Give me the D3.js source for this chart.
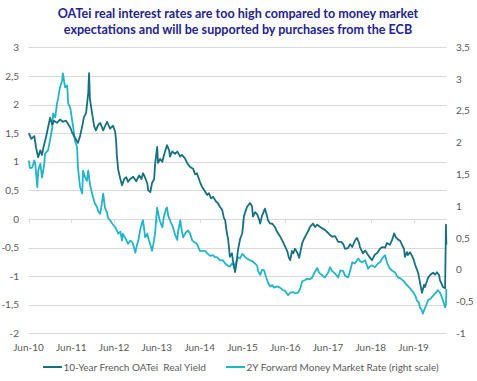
<!DOCTYPE html>
<html><head><meta charset="utf-8">
<script src="https://cdn.jsdelivr.net/npm/d3@7"></script>
<style>html,body{margin:0;padding:0;background:#fff;}svg{display:block;}text{white-space:pre;}</style>
</head><body>
<svg id="c" width="477" height="381"></svg>
<script>
// ---------- DATA ----------
const titleLines = ["OATei real interest rates are too high compared to money market",
                    "expectations and will be supported by purchases from the ECB"];
const seriesNames = ["10-Year French OATei  Real Yield", "2Y Forward Money Market Rate (right scale)"];
const xTickLabels = ["Jun-10","Jun-11","Jun-12","Jun-13","Jun-14","Jun-15","Jun-16","Jun-17","Jun-18","Jun-19"];
const leftTicks = [-2,-1.5,-1,-0.5,0,0.5,1,1.5,2,2.5,3];
const rightTicks = [-1,-0.5,0,0.5,1,1.5,2,2.5,3,3.5];

// decimal years
const oatTime = [2010.42,2010.48,2010.55,2010.59,2010.64,2010.69,2010.73,2010.76,2010.83,2010.87,2010.92,2010.97,2011.01,2011.08,2011.15,2011.22,2011.29,2011.34,2011.39,2011.43,2011.50,2011.57,2011.62,2011.67,2011.71,2011.76,2011.81,2011.83,2011.85,2011.90,2011.95,2011.99,2012.04,2012.09,2012.16,2012.20,2012.25,2012.32,2012.39,2012.44,2012.46,2012.48,2012.51,2012.56,2012.60,2012.65,2012.70,2012.74,2012.79,2012.86,2012.93,2013.00,2013.05,2013.09,2013.14,2013.19,2013.21,2013.26,2013.30,2013.35,2013.37,2013.42,2013.44,2013.49,2013.54,2013.58,2013.65,2013.70,2013.72,2013.77,2013.84,2013.89,2013.96,2014.00,2014.07,2014.12,2014.19,2014.26,2014.31,2014.35,2014.42,2014.47,2014.54,2014.59,2014.63,2014.68,2014.73,2014.80,2014.84,2014.89,2014.94,2014.98,2015.01,2015.05,2015.08,2015.12,2015.17,2015.19,2015.24,2015.27,2015.31,2015.36,2015.41,2015.45,2015.48,2015.52,2015.59,2015.64,2015.66,2015.71,2015.76,2015.80,2015.83,2015.87,2015.94,2015.99,2016.01,2016.06,2016.11,2016.18,2016.22,2016.29,2016.34,2016.39,2016.46,2016.50,2016.53,2016.57,2016.60,2016.64,2016.69,2016.74,2016.76,2016.81,2016.85,2016.92,2016.97,2016.99,2017.06,2017.11,2017.16,2017.23,2017.27,2017.34,2017.41,2017.46,2017.51,2017.58,2017.65,2017.72,2017.77,2017.81,2017.88,2017.93,2017.98,2018.04,2018.09,2018.14,2018.16,2018.23,2018.28,2018.35,2018.40,2018.44,2018.51,2018.56,2018.63,2018.68,2018.75,2018.79,2018.86,2018.91,2018.96,2019.00,2019.05,2019.10,2019.14,2019.19,2019.21,2019.26,2019.28,2019.33,2019.38,2019.42,2019.45,2019.49,2019.52,2019.56,2019.61,2019.66,2019.68,2019.73,2019.75,2019.80,2019.87,2019.92,2019.96,2020.01,2020.03,2020.08,2020.10,2020.15,2020.17,2020.18];
const oatYield = [1.50,1.40,1.45,1.25,1.08,1.20,1.12,1.24,1.45,1.60,1.77,1.65,1.72,1.68,1.74,1.70,1.72,1.66,1.60,1.52,1.42,1.33,1.45,1.62,1.78,1.85,2.20,2.55,2.10,1.85,1.62,1.55,1.64,1.68,1.55,1.62,1.70,1.58,1.63,1.52,1.38,1.10,0.86,0.70,0.59,0.70,0.73,0.65,0.70,0.74,0.66,0.76,0.70,0.80,0.72,0.62,0.50,0.47,0.63,0.70,0.95,1.26,0.98,1.05,1.00,1.12,1.29,1.20,1.09,1.18,1.14,1.18,1.09,1.12,1.06,0.98,0.91,0.88,0.78,0.80,0.65,0.56,0.48,0.42,0.45,0.36,0.39,0.30,0.28,0.21,0.16,0.02,-0.02,-0.25,-0.35,-0.66,-0.60,-0.72,-0.93,-0.80,-0.54,-0.35,-0.25,0.05,0.12,0.21,0.28,0.22,0.04,0.12,0.08,0.00,-0.08,0.05,0.18,0.05,-0.02,-0.08,-0.08,-0.15,-0.22,-0.30,-0.37,-0.45,-0.56,-0.68,-0.72,-0.56,-0.60,-0.52,-0.58,-0.68,-0.60,-0.42,-0.35,-0.25,-0.18,-0.14,-0.08,-0.14,-0.10,-0.14,-0.16,-0.19,-0.24,-0.28,-0.31,-0.30,-0.40,-0.40,-0.44,-0.52,-0.51,-0.44,-0.49,-0.38,-0.33,-0.42,-0.49,-0.60,-0.55,-0.63,-0.68,-0.72,-0.62,-0.60,-0.52,-0.49,-0.50,-0.42,-0.45,-0.37,-0.25,-0.32,-0.36,-0.38,-0.45,-0.52,-0.66,-0.58,-0.63,-0.58,-0.65,-0.72,-0.80,-0.88,-0.94,-1.10,-1.29,-1.15,-1.19,-1.08,-1.03,-0.98,-0.94,-0.97,-0.93,-0.98,-1.07,-1.15,-1.19,-1.21,-0.10,-0.45];

const fwdTime = [2010.42,2010.45,2010.50,2010.55,2010.57,2010.62,2010.64,2010.69,2010.73,2010.78,2010.80,2010.87,2010.92,2010.97,2010.99,2011.04,2011.08,2011.11,2011.15,2011.20,2011.22,2011.25,2011.27,2011.32,2011.34,2011.39,2011.41,2011.46,2011.50,2011.55,2011.57,2011.62,2011.67,2011.69,2011.74,2011.78,2011.81,2011.85,2011.90,2011.95,2011.97,2012.02,2012.04,2012.09,2012.13,2012.16,2012.20,2012.25,2012.27,2012.32,2012.37,2012.44,2012.48,2012.51,2012.56,2012.60,2012.62,2012.67,2012.74,2012.79,2012.84,2012.88,2012.91,2012.95,2012.98,2013.02,2013.07,2013.09,2013.14,2013.19,2013.21,2013.26,2013.30,2013.33,2013.37,2013.42,2013.47,2013.51,2013.54,2013.58,2013.63,2013.65,2013.68,2013.72,2013.77,2013.79,2013.84,2013.89,2013.91,2013.96,2014.00,2014.03,2014.07,2014.14,2014.19,2014.24,2014.28,2014.35,2014.42,2014.49,2014.54,2014.59,2014.66,2014.73,2014.77,2014.82,2014.89,2014.96,2015.01,2015.08,2015.12,2015.17,2015.22,2015.27,2015.31,2015.36,2015.41,2015.48,2015.52,2015.59,2015.64,2015.71,2015.76,2015.78,2015.83,2015.87,2015.92,2015.97,2016.01,2016.06,2016.11,2016.15,2016.22,2016.29,2016.36,2016.41,2016.46,2016.48,2016.53,2016.60,2016.64,2016.71,2016.76,2016.81,2016.88,2016.92,2016.99,2017.04,2017.11,2017.16,2017.20,2017.23,2017.30,2017.34,2017.41,2017.46,2017.51,2017.58,2017.65,2017.70,2017.77,2017.81,2017.88,2017.93,2017.98,2018.04,2018.12,2018.16,2018.21,2018.28,2018.35,2018.40,2018.44,2018.51,2018.58,2018.63,2018.68,2018.75,2018.79,2018.82,2018.86,2018.91,2018.98,2019.05,2019.10,2019.17,2019.21,2019.26,2019.33,2019.40,2019.45,2019.49,2019.54,2019.56,2019.61,2019.63,2019.68,2019.73,2019.75,2019.80,2019.84,2019.92,2019.96,2019.98,2020.03,2020.08,2020.10,2020.15,2020.17,2020.18];
const fwdRate = [1.72,1.60,1.61,1.72,1.68,1.30,1.56,1.67,1.45,1.65,1.83,1.88,2.05,2.24,2.46,2.40,2.62,2.71,2.87,2.98,3.09,2.95,2.87,2.90,2.62,2.55,2.46,2.24,2.03,1.93,1.61,1.30,1.20,1.56,1.45,1.40,1.56,1.35,1.20,1.08,1.04,0.98,0.93,0.88,1.05,1.20,0.98,0.90,0.82,0.78,0.73,0.67,0.62,0.57,0.60,0.46,0.57,0.51,0.41,0.46,0.43,0.35,0.27,0.40,0.46,0.62,0.75,0.78,0.51,0.57,0.50,0.40,0.30,0.40,0.57,0.98,0.80,0.72,0.67,0.85,0.96,0.98,0.85,0.78,0.70,0.67,0.55,0.47,0.60,0.78,0.60,0.51,0.57,0.62,0.57,0.46,0.44,0.41,0.30,0.30,0.30,0.26,0.22,0.23,0.20,0.20,0.15,0.15,0.10,0.06,0.05,0.10,0.06,0.12,0.20,0.18,0.25,0.20,0.18,0.15,0.14,0.10,0.06,-0.02,-0.08,0.00,-0.01,-0.12,-0.20,-0.26,-0.24,-0.28,-0.26,-0.28,-0.32,-0.33,-0.38,-0.40,-0.36,-0.35,-0.37,-0.36,-0.30,-0.18,-0.16,-0.14,-0.15,-0.12,-0.03,0.03,-0.04,-0.06,-0.10,-0.12,-0.05,0.04,-0.02,-0.06,-0.12,-0.01,-0.02,-0.09,-0.12,-0.02,0.12,0.10,0.18,0.14,0.12,0.15,0.02,0.06,0.07,0.04,0.10,0.12,0.18,0.23,0.12,0.07,0.02,-0.01,-0.04,-0.12,-0.13,-0.17,-0.20,-0.24,-0.29,-0.35,-0.40,-0.48,-0.52,-0.59,-0.64,-0.69,-0.60,-0.52,-0.48,-0.46,-0.43,-0.37,-0.34,-0.32,-0.36,-0.44,-0.48,-0.59,-0.55,-0.30];

// ---------- CHART ----------
const colors = {oat:"#17707f", fwd:"#22b4c8", grid:"#d9d9d9", text:"#595959", title:"#23238f"};
const svg = d3.select("#c");
const FONT = "Lato, 'Open Sans', 'Liberation Sans', sans-serif";

function decToDate(y){
  const yr = Math.floor(y);
  const s = new Date(yr,0,1), e = new Date(yr+1,0,1);
  return new Date(+s + (y-yr)*(e-s));
}
const parseTick = d3.timeParse("%b-%y");
const tickDates = xTickLabels.map(parseTick);

const plot = {l:28.5, r:446.5, t:47.4, b:333.4};
const x = d3.scaleTime().domain([tickDates[0], decToDate(2020.183)]).range([plot.l, plot.r]);
const yL = d3.scaleLinear().domain([-2,3]).range([plot.b, plot.t]);
const yR = d3.scaleLinear().domain([-1,3.5]).range([plot.b, plot.t]);
const fmt = v => String(v).replace(".", ",");

// gridlines
svg.append("g").selectAll("line").data(leftTicks).join("line")
  .attr("x1", plot.l).attr("x2", plot.r)
  .attr("y1", d => Math.round(yL(d))+0.5).attr("y2", d => Math.round(yL(d))+0.5)
  .attr("stroke", colors.grid).attr("stroke-width", 1);

// category axis tick marks on the zero line
svg.append("g").selectAll("line").data(tickDates).join("line")
  .attr("x1", d => Math.round(x(d))+0.5).attr("x2", d => Math.round(x(d))+0.5)
  .attr("y1", yL(0)).attr("y2", yL(0)+4)
  .attr("stroke", colors.grid);

// left labels
svg.append("g").selectAll("text").data(leftTicks).join("text")
  .attr("x", 19).attr("y", d => yL(d)+3.5).attr("text-anchor","end")
  .attr("font-family", FONT).attr("font-size", 10).attr("fill", colors.text)
  .text(fmt);
// right labels
svg.append("g").selectAll("text").data(rightTicks).join("text")
  .attr("x", 456).attr("y", d => yR(d)+3.5).attr("text-anchor","start")
  .attr("font-family", FONT).attr("font-size", 10).attr("fill", colors.text)
  .text(fmt);
// x labels
svg.append("g").selectAll("text").data(tickDates).join("text")
  .attr("x", d => x(d)).attr("y", 350.5).attr("text-anchor","middle")
  .attr("font-family", FONT).attr("font-size", 10).attr("fill", colors.text)
  .text((d,i) => xTickLabels[i]);

// lines
const oatData = oatTime.map((t,i) => ({d:decToDate(t), v:oatYield[i]}));
const fwdData = fwdTime.map((t,i) => ({d:decToDate(t), v:fwdRate[i]}));
svg.append("path").datum(fwdData)
  .attr("fill","none").attr("stroke", colors.fwd).attr("stroke-width", 1.8).attr("stroke-linejoin","round")
  .attr("d", d3.line().x(p => x(p.d)).y(p => yR(p.v)));
svg.append("path").datum(oatData)
  .attr("fill","none").attr("stroke", colors.oat).attr("stroke-width", 1.8).attr("stroke-linejoin","round")
  .attr("d", d3.line().x(p => x(p.d)).y(p => yL(p.v)));

// title
const tg = svg.append("g");
const t1 = tg.append("text").attr("x", 238).attr("y", 18.3).attr("text-anchor","middle")
  .attr("font-family", FONT).attr("font-weight","bold").attr("font-size", 13).attr("fill", colors.title)
  .text(titleLines[0]);
const w1 = t1.node().getComputedTextLength();
const fs = 13 * 361 / w1;
t1.attr("font-size", fs);
tg.append("text").attr("x", 238).attr("y", 33.6).attr("text-anchor","middle")
  .attr("font-family", FONT).attr("font-weight","bold").attr("font-size", fs).attr("fill", colors.title)
  .text(titleLines[1]);

// legend
const legend = [{name:seriesNames[0], c:colors.oat, x0:43, x1:62, tx:63.5},
                {name:seriesNames[1], c:colors.fwd, x0:226, x1:245, tx:246.5}];
const lg = svg.append("g");
legend.forEach(L => {
  lg.append("line").attr("x1", L.x0).attr("x2", L.x1).attr("y1", 367).attr("y2", 367)
    .attr("stroke", L.c).attr("stroke-width", 2);
  lg.append("text").attr("x", L.tx).attr("y", 370.5).attr("xml:space","preserve")
    .attr("font-family", FONT).attr("font-size", 10).attr("fill", colors.text).text(L.name);
});
</script>
</body></html>
